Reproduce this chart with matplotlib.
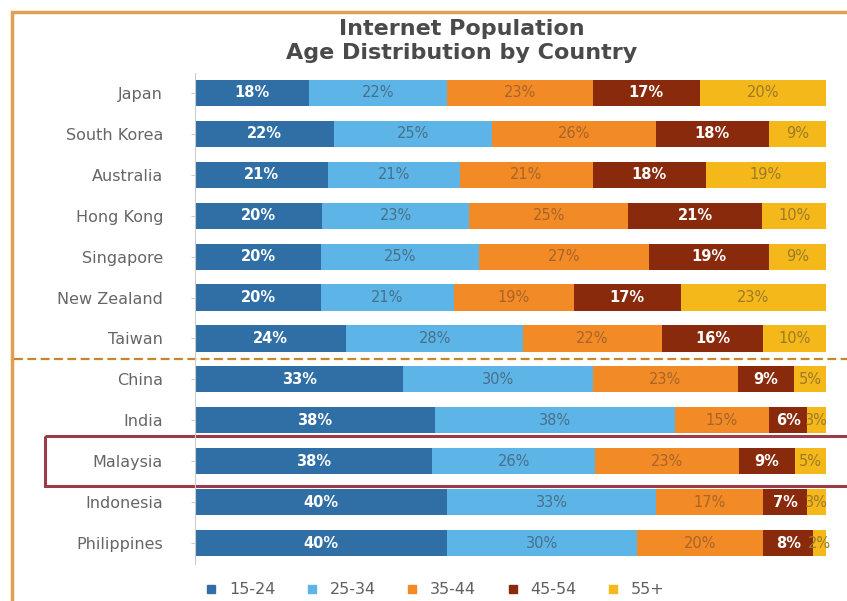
import matplotlib
matplotlib.use("Agg")
import matplotlib.pyplot as plt
import matplotlib.transforms as mtransforms
from matplotlib.patches import Rectangle
from matplotlib.lines import Line2D
import numpy as np

countries = ["Japan", "South Korea", "Australia", "Hong Kong", "Singapore",
             "New Zealand", "Taiwan", "China", "India", "Malaysia",
             "Indonesia", "Philippines"]
age_groups = ["15-24", "25-34", "35-44", "45-54", "55+"]
v_15_24 = [18, 22, 21, 20, 20, 20, 24, 33, 38, 38, 40, 40]
v_25_34 = [22, 25, 21, 23, 25, 21, 28, 30, 38, 26, 33, 30]
v_35_44 = [23, 26, 21, 25, 27, 19, 22, 23, 15, 23, 17, 20]
v_45_54 = [17, 18, 18, 21, 19, 17, 16, 9, 6, 9, 7, 8]
v_55p = [20, 9, 19, 10, 9, 23, 10, 5, 3, 5, 3, 2]
series = [v_15_24, v_25_34, v_35_44, v_45_54, v_55p]

colors = ["#2f6fa6", "#5cb5e6", "#f28a26", "#8a2a0c", "#f4b81a"]
text_colors = ["white", "#4a6f8a", "#a8642a", "white", "#9c7a2a"]

W, H = 847, 601
fig = plt.figure(figsize=(W / 100, H / 100), dpi=100)
fig.patch.set_facecolor("white")

ax = fig.add_axes([195 / W, 1 - 563.5 / H, 631 / W, 491 / H])

n = len(countries)
ypos = np.arange(n)
data = np.array(series, dtype=float)
totals = data.sum(axis=0)
shares = data / totals * 100

left = np.zeros(n)
for i, (grp, col) in enumerate(zip(age_groups, colors)):
    ax.barh(ypos, shares[i], left=left, height=0.64, color=col, label=grp,
            edgecolor="none")
    for j in range(n):
        cx = left[j] + shares[i][j] / 2
        bold = i in (0, 3)
        ax.text(cx, ypos[j], f"{int(data[i][j])}%", ha="center", va="center",
                fontsize=10.5, color=text_colors[i],
                fontweight="bold" if bold else "normal")
    left += shares[i]

ax.set_xlim(0, 100)
ax.set_ylim(n - 0.5, -0.5)
ax.set_yticks(ypos)
ax.set_yticklabels(countries, fontsize=11.5, color="#666666")
ax.set_xticks([])
for s in ["top", "right", "bottom"]:
    ax.spines[s].set_visible(False)
ax.spines["left"].set_color("#cccccc")
ax.tick_params(axis="y", length=3, color="#cccccc", pad=20)

# dashed separator between groups
trans = mtransforms.blended_transform_factory(fig.transFigure, ax.transData)
ax.add_line(Line2D([14 / W, 1.0], [6.5, 6.5], transform=trans, clip_on=False,
                   color="#c8862a", linestyle=(0, (4, 2)), linewidth=1.6))

# highlight box for Malaysia
ax.add_patch(Rectangle((45 / W, 9 - 0.61), 1.0, 1.22, transform=trans,
                       fill=False, edgecolor="#9b3a48", linewidth=2.2,
                       clip_on=False))

# outer frame
fig.add_artist(Rectangle((12 / W, -0.05), 1.0, 1 - 12 / H + 0.05,
                         transform=fig.transFigure, fill=False,
                         edgecolor="#e0a050", linewidth=2.5))

fig.text(0.545, 1 - 29 / H, "Internet Population", ha="center", va="center",
         fontsize=16, fontweight="bold", color="#4a4a4a")
fig.text(0.545, 1 - 53 / H, "Age Distribution by Country", ha="center",
         va="center", fontsize=16, fontweight="bold", color="#4a4a4a")

handles = [Line2D([], [], marker="s", linestyle="none", markersize=6,
                  color=c) for c in colors]
fig.legend(handles, age_groups, loc="center", bbox_to_anchor=(430 / W, 1 - 590 / H),
           ncol=5, frameon=False, fontsize=11.5, handletextpad=0.1,
           columnspacing=1.3, labelcolor="#606060")

fig.savefig("out.png", dpi=100)
